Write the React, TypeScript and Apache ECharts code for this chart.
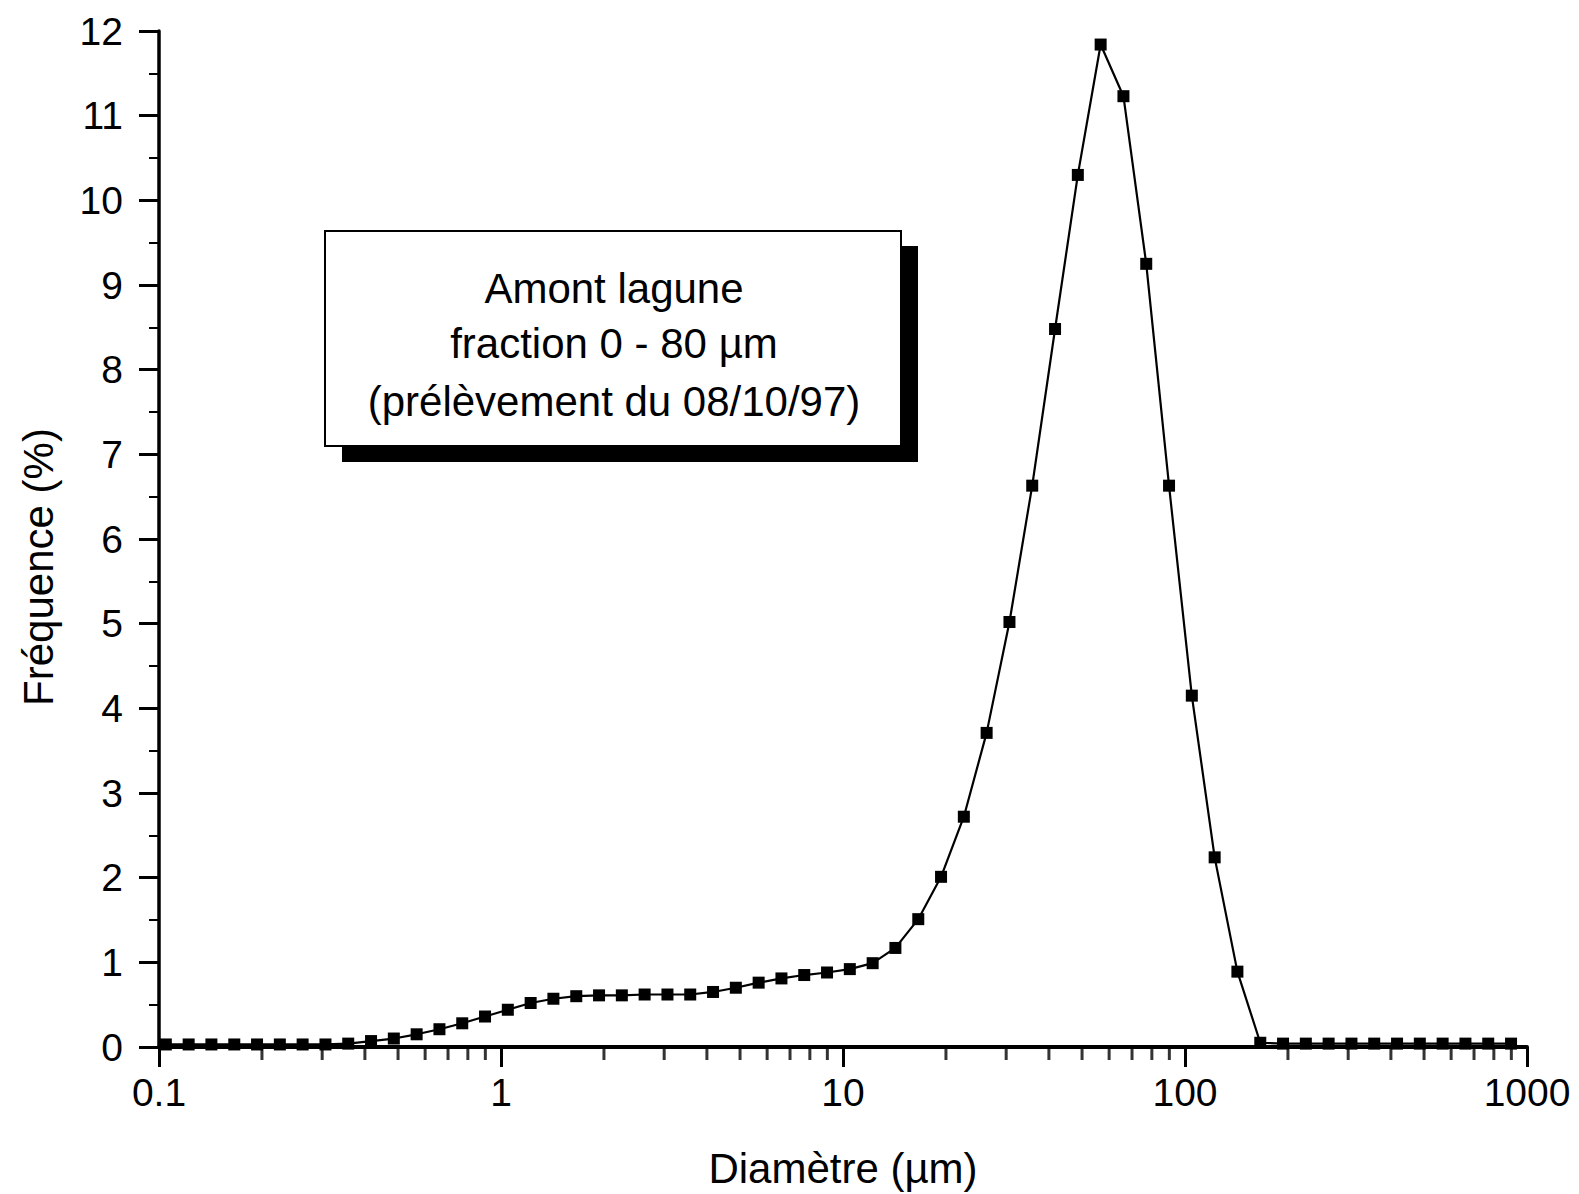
import React, { useEffect, useRef } from "react";
import * as echarts from "echarts";

// Particle diameter (µm) of each measurement channel
const diameters = [
  0.1047, 0.1221, 0.1423, 0.166, 0.1935, 0.2256, 0.263, 0.3067, 0.3575, 0.4169,
  0.486, 0.5667, 0.6607, 0.7703, 0.8981, 1.047, 1.221, 1.423, 1.66, 1.935,
  2.256, 2.63, 3.067, 3.575, 4.169, 4.86, 5.667, 6.607, 7.703, 8.981,
  10.47, 12.21, 14.23, 16.6, 19.35, 22.56, 26.3, 30.67, 35.75, 41.69,
  48.6, 56.67, 66.07, 77.03, 89.81, 104.7, 122.1, 142.3, 166.0, 193.5,
  225.6, 263.0, 306.7, 357.5, 416.9, 486.0, 566.7, 660.7, 770.3, 898.1,
];

// Frequency (%) of each channel
const frequencies = [
  0.03, 0.03, 0.03, 0.03, 0.03, 0.03, 0.03, 0.03, 0.04, 0.07,
  0.1, 0.15, 0.21, 0.28, 0.36, 0.44, 0.52, 0.57, 0.6, 0.61,
  0.61, 0.62, 0.62, 0.62, 0.65, 0.7, 0.76, 0.81, 0.85, 0.88,
  0.92, 0.99, 1.17, 1.51, 2.01, 2.72, 3.71, 5.02, 6.63, 8.48,
  10.3, 11.84, 11.23, 9.25, 6.63, 4.15, 2.24, 0.89, 0.05, 0.04,
  0.04, 0.04, 0.04, 0.04, 0.04, 0.04, 0.04, 0.04, 0.04, 0.04,
];

const xTickLabels = ["0.1", "1", "10", "100", "1000"];
const xMinorTicks = [
  0.2, 0.3, 0.4, 0.5, 0.6, 0.7, 0.8, 0.9,
  2, 3, 4, 5, 6, 7, 8, 9,
  20, 30, 40, 50, 60, 70, 80, 90,
  200, 300, 400, 500, 600, 700, 800, 900,
];

const xTitle = "Diamètre (µm)";
const yTitle = "Fréquence (%)";
const boxLines = ["Amont lagune", "fraction 0 - 80 µm", "(prélèvement du 08/10/97)"];

const FONT = '"Liberation Sans", Arial, Helvetica, sans-serif';

export default function App() {
  const ref = useRef<HTMLDivElement>(null);

  useEffect(() => {
    if (!ref.current) return;
    const chart = echarts.init(ref.current, null, { renderer: "svg" });
    const lineYs = [288, 343, 401];
    chart.setOption({
      animation: false,
      backgroundColor: "#fff",
      textStyle: { fontFamily: FONT, color: "#000" },
      grid: { left: 159, top: 31, width: 1368, height: 1017 },
      xAxis: {
        type: "log",
        logBase: 10,
        min: 0.1,
        max: 1000,
        name: xTitle,
        nameLocation: "middle",
        nameGap: 100,
        nameTextStyle: { fontSize: 42, fontFamily: FONT, color: "#000" },
        axisLine: { show: true, onZero: false, lineStyle: { color: "#000", width: 4 } },
        axisTick: { show: true, length: 20, lineStyle: { color: "#000", width: 3 } },
        axisLabel: {
          fontSize: 39,
          fontFamily: FONT,
          color: "#000",
          margin: 26,
          formatter: (v: number) => xTickLabels[Math.round(Math.log10(v)) + 1] ?? "",
        },
        splitLine: { show: false },
        minorTick: { show: false },
      },
      yAxis: {
        type: "value",
        min: 0,
        max: 12,
        interval: 1,
        axisLine: { show: true, lineStyle: { color: "#000", width: 3.5 } },
        axisTick: { show: true, length: 20, lineStyle: { color: "#000", width: 3 } },
        minorTick: { show: true, splitNumber: 2, length: 10, lineStyle: { color: "#000", width: 2 } },
        axisLabel: { fontSize: 39, fontFamily: FONT, color: "#000", margin: 36 },
        splitLine: { show: false },
      },
      series: [
        {
          type: "scatter",
          data: xMinorTicks.map((v) => [v, 0]),
          symbol: "rect",
          symbolSize: [3, 12],
          symbolOffset: [0, 7],
          itemStyle: { color: "#000" },
          silent: true,
          clip: false,
          z: 1,
        },
        {
          type: "line",
          data: diameters.map((d, i) => [d, frequencies[i]]),
          symbol: "rect",
          symbolSize: 12,
          showSymbol: true,
          lineStyle: { color: "#000", width: 2.2 },
          itemStyle: { color: "#000" },
          clip: false,
          z: 3,
        },
      ],
      graphic: [
        {
          type: "text",
          x: 38,
          y: 567,
          rotation: Math.PI / 2,
          style: {
            text: yTitle,
            fontSize: 42,
            fontFamily: FONT,
            fill: "#000",
            align: "center",
            verticalAlign: "middle",
          },
        },
        {
          type: "rect",
          shape: { x: 342, y: 246, width: 576, height: 216 },
          style: { fill: "#000" },
          z: 10,
        },
        {
          type: "rect",
          shape: { x: 325, y: 231, width: 576, height: 215 },
          style: { fill: "#fff", stroke: "#000", lineWidth: 2 },
          z: 11,
        },
        ...boxLines.map((t, i) => ({
          type: "text",
          x: 614,
          y: lineYs[i],
          z: 12,
          style: {
            text: t,
            fontSize: 42,
            fontFamily: FONT,
            fill: "#000",
            align: "center",
            verticalAlign: "middle",
          },
        })),
      ],
    });
    return () => chart.dispose();
  }, []);

  return (
    <div
      ref={ref}
      style={{ position: "absolute", left: 0, top: 0, width: 1579, height: 1194, background: "#fff" }}
    />
  );
}
